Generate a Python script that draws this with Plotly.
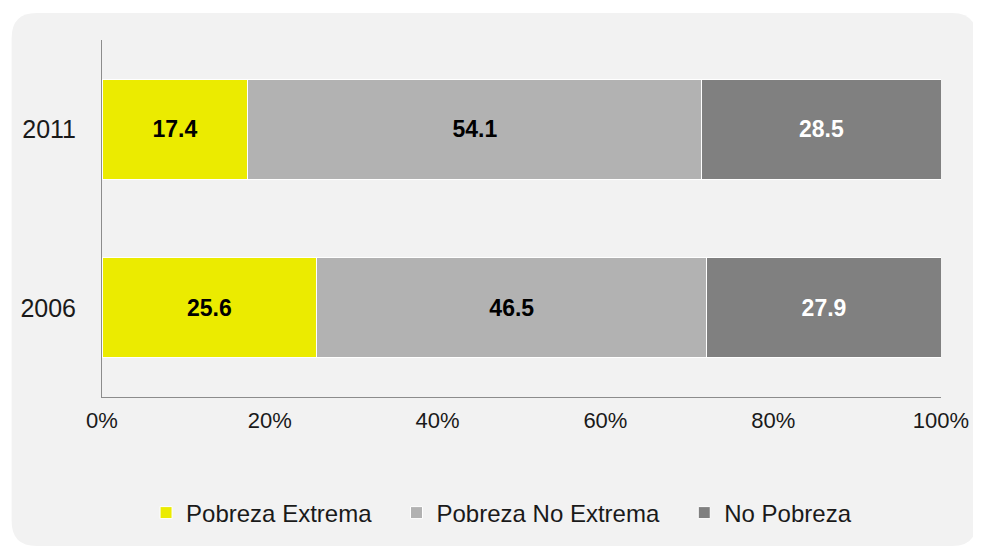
import plotly.graph_objects as go

# data (percent of population)
years = ['2006', '2011']
pobreza_extrema = [25.6, 17.4]
pobreza_no_extrema = [46.5, 54.1]
no_pobreza = [27.9, 28.5]
x_ticks = [0, 20, 40, 60, 80, 100]
x_tick_labels = ['0%', '20%', '40%', '60%', '80%', '100%']

# the page body has an 8px margin, so the figure is drawn 8px smaller
OFF = 8
W, H = 981 - OFF, 547 - OFF
ML, MR, MT, MB = 99 - OFF, 37, 40 - OFF, 150


# convert page pixels to paper coordinates (for the rounded background panel)
def px(x):
    return (x - OFF - ML) / (W - ML - MR)


def py(y):
    return (H - MB - (y - OFF)) / (H - MT - MB)


def rounded_rect(x0, y0, x1, y1, r):
    a0, a1 = px(x0), px(x1)
    b0, b1 = py(y1), py(y0)
    rx = r / (W - ML - MR)
    ry = r / (H - MT - MB)
    return (f'M {a0 + rx},{b1} L {a1 - rx},{b1} Q {a1},{b1} {a1},{b1 - ry} '
            f'L {a1},{b0 + ry} Q {a1},{b0} {a1 - rx},{b0} '
            f'L {a0 + rx},{b0} Q {a0},{b0} {a0},{b0 + ry} '
            f'L {a0},{b1 - ry} Q {a0},{b1} {a0 + rx},{b1} Z')


series = [
    ('Pobreza Extrema', pobreza_extrema, '#ebeb00', '#000000'),
    ('Pobreza No Extrema', pobreza_no_extrema, '#b2b2b2', '#000000'),
    ('No Pobreza', no_pobreza, '#808080', '#ffffff'),
]

pad = '\u00a0' * 3  # extra room between legend entries

fig = go.Figure()
for name, vals, color, txt_color in series:
    fig.add_trace(go.Bar(
        y=years,
        x=vals,
        name=name + pad,
        orientation='h',
        marker=dict(color=color, line=dict(color='white', width=1)),
        text=vals,
        texttemplate='%{x:.1f}',
        textposition='inside',
        insidetextanchor='middle',
        textfont=dict(family='Liberation Sans', size=23, color=txt_color, weight='bold'),
        hoverinfo='skip',
    ))

fig.update_layout(
    barmode='stack',
    bargap=0.44,
    width=W,
    height=H,
    margin=dict(l=ML, r=MR, t=MT, b=MB),
    paper_bgcolor='white',
    plot_bgcolor='rgba(0,0,0,0)',
    font=dict(family='Liberation Sans', color='#1a1a1a'),
    showlegend=True,
    legend=dict(
        orientation='h',
        x=px(511),
        xanchor='center',
        y=py(513),
        yanchor='middle',
        font=dict(size=24, color='#1a1a1a'),
        bgcolor='rgba(0,0,0,0)',
        traceorder='normal',
        itemwidth=30,
    ),
    shapes=[dict(
        type='path',
        xref='paper',
        yref='paper',
        path=rounded_rect(8, 13, 980, 546, 25),
        fillcolor='#f2f2f2',
        line=dict(width=0),
        layer='below',
    )],
)

fig.update_xaxes(
    range=[0, 100],
    tickvals=x_ticks,
    ticktext=x_tick_labels,
    tickfont=dict(size=22, color='#1a1a1a'),
    showgrid=False,
    zeroline=False,
    showline=True,
    linecolor='#8c8c8c',
    linewidth=1,
    ticks='',
    ticklabelstandoff=4,
    fixedrange=True,
)
fig.update_yaxes(
    type='category',
    tickfont=dict(size=25, color='#1a1a1a'),
    showgrid=False,
    zeroline=False,
    showline=True,
    linecolor='#8c8c8c',
    linewidth=1,
    ticks='',
    ticklabelstandoff=20,
    fixedrange=True,
)

fig.write_html('out.html')
